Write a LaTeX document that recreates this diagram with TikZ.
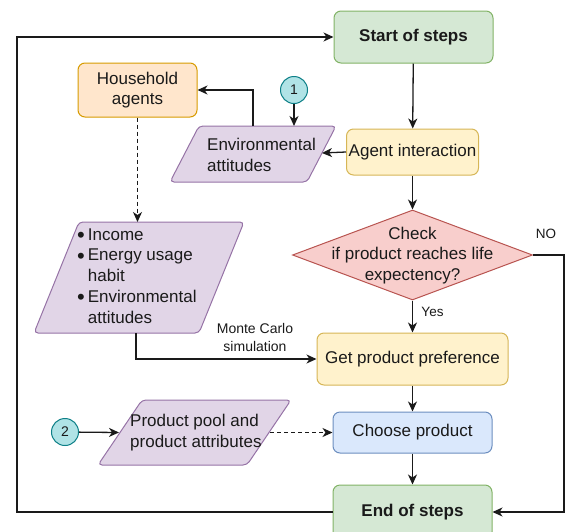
\documentclass[tikz,border=0pt]{standalone}
\usepackage{fontspec}
\setmainfont{Liberation Sans}
\usetikzlibrary{arrows.meta,shapes.geometric}
\definecolor{gfill}{HTML}{D5E8D4}\definecolor{gline}{HTML}{82B366}
\definecolor{ofill}{HTML}{FFE6CC}\definecolor{oline}{HTML}{D79B00}
\definecolor{yfill}{HTML}{FFF2CC}\definecolor{yline}{HTML}{D6B656}
\definecolor{pfill}{HTML}{E1D5E7}\definecolor{pline}{HTML}{9673A6}
\definecolor{rfill}{HTML}{F8CECC}\definecolor{rline}{HTML}{B85450}
\definecolor{bfill}{HTML}{DAE8FC}\definecolor{bline}{HTML}{6C8EBF}
\definecolor{cfill}{HTML}{B0E3E6}\definecolor{cline}{HTML}{0E8088}
\definecolor{txt}{HTML}{1A1A1A}
\newcommand{\bigbul}{\raisebox{-2.2pt}{\fontsize{22}{20}\selectfont\textbullet}}
\begin{document}
\begin{tikzpicture}[x=1pt,y=-1pt,
  font=\fontsize{17}{20.7}\selectfont, text=txt,
  box/.style={draw, rounded corners=7pt, line width=1pt, align=center, inner sep=0pt},
  para/.style={draw=pline, fill=pfill, line width=1pt, rounded corners=4pt},
  numc/.style={circle, draw=cline, fill=cfill, line width=1pt, minimum size=27pt, inner sep=0pt, font=\fontsize{14}{16}\selectfont},
  lbl/.style={font=\fontsize{13.5}{18}\selectfont, align=center, inner sep=0pt},
  arr/.style={draw=txt, line width=1.3pt, -{Stealth[length=10pt,width=9pt,inset=3pt]}},
  dsh/.style={dash pattern=on 4pt off 3pt}]
\useasboundingbox (0,0) rectangle (568,531);
\clip (0,0) rectangle (568,531);
% nodes
\node[box, draw=gline, fill=gfill, minimum width=159pt, minimum height=52pt, font=\fontsize{17}{20}\selectfont\bfseries] (start) at (413.5,37) {Start of steps};
\node[box, draw=oline, fill=ofill, minimum width=119pt, minimum height=54pt] (house) at (137.5,90) {Household\\agents};
\node[box, draw=yline, fill=yfill, minimum width=132pt, minimum height=46pt] (agent) at (412.5,152) {Agent interaction};
\node[numc] (c1) at (294,90) {1};
\draw[para] (199,126) -- (336,126) -- (307,182) -- (170,182) -- cycle;
\node[align=left, anchor=west, inner sep=0pt] (env) at (207,155) {Environmental\\attitudes};
\draw[para] (79,222) -- (244,222) -- (199,333) -- (34,333) -- cycle;
\node[anchor=west, inner sep=0pt] (bull) at (77,277.5) {\begin{tabular}{@{}l@{\hspace{3pt}}l@{}}\bigbul & Income\\ \bigbul & Energy usage\\ & habit\\ \bigbul & Environmental\\ & attitudes\end{tabular}};
\node[diamond, draw=rline, fill=rfill, line width=1pt, minimum width=240pt, minimum height=90pt, inner sep=0pt] (check) at (412.5,255) {};
\node[align=center, inner sep=0pt] (checkt) at (412.5,255.5) {Check\\if product reaches life\\expectency?};
\node[box, draw=yline, fill=yfill, minimum width=191pt, minimum height=52pt] (pref) at (412.5,359) {Get product preference};
\node[box, draw=bline, fill=bfill, minimum width=159pt, minimum height=41pt] (choose) at (412.5,432.5) {Choose product};
\draw[para] (142,400) -- (291,400) -- (247,465) -- (98,465) -- cycle;
\node[align=left, anchor=west, inner sep=0pt] (prod) at (130,432.5) {Product pool and\\product attributes};
\node[numc] (c2) at (65,432) {2};
\node[box, draw=gline, fill=gfill, minimum width=159pt, minimum height=54pt, font=\fontsize{17}{20}\selectfont\bfseries] (end) at (412.5,512) {End of steps};
% coordinates
\coordinate (envR) at (322,153);
\coordinate (envT) at (253,126);
\coordinate (envT1) at (294,126);
\coordinate (bullT) at (137.5,222);
\coordinate (bullB) at (136,333);
\coordinate (prodL) at (119,432.5);
\coordinate (prodR) at (270,432.5);
\coordinate (noC) at (564,255);
\coordinate (loopB) at (17,512);
\coordinate (loopT) at (17,37);
% connectors
\draw[arr] (start) -- (agent);
\draw[arr] (agent.west) -- (envR);
\draw[arr] (envT) |- (house.east);
\draw[arr] (c1) -- (envT1);
\draw[arr, dsh] (house.south) -- (bullT);
\draw[arr] (agent) -- (check.north);
\draw[arr] (bullB) |- (pref.west);
\draw[arr] (check.south) -- (pref);
\draw[arr] (pref) -- (choose);
\draw[arr] (choose) -- (end);
\draw[arr] (c2) -- (prodL);
\draw[arr, dsh] (prodR) -- (choose.west);
\draw[arr] (check.east) -- (noC) |- (end.east);
\draw[arr] (end.west) -- (loopB) -- (loopT) -- (start.west);
% labels
\node[lbl] (nolbl) at (546,234) {NO};
\node[lbl] (yeslbl) at (432.5,312) {Yes};
\node[lbl, font=\fontsize{14}{18}\selectfont] (mclbl) at (255,337) {Monte Carlo\\simulation};
\end{tikzpicture}
\end{document}
